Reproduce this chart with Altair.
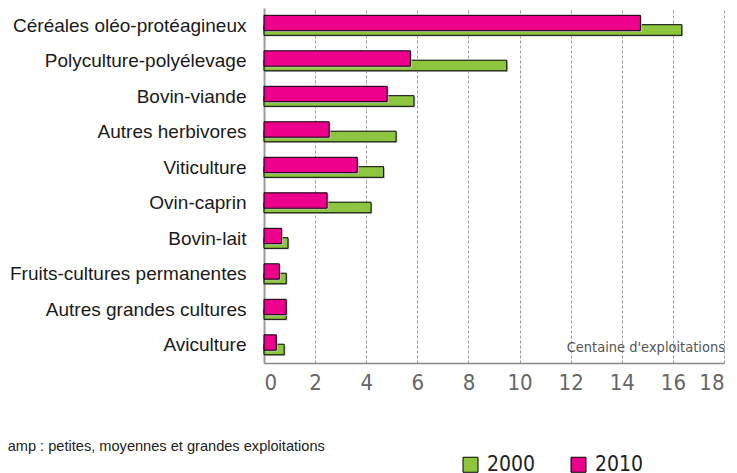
import altair as alt
import pandas as pd

categories = [
    "Céréales oléo-protéagineux",
    "Polyculture-polyélevage",
    "Bovin-viande",
    "Autres herbivores",
    "Viticulture",
    "Ovin-caprin",
    "Bovin-lait",
    "Fruits-cultures permanentes",
    "Autres grandes cultures",
    "Aviculture",
]
values_2000 = [16.35, 9.5, 5.87, 5.17, 4.68, 4.19, 0.94, 0.87, 0.87, 0.79]
values_2010 = [14.73, 5.73, 4.82, 2.55, 3.65, 2.47, 0.69, 0.60, 0.87, 0.48]
years = ["2000", "2010"]
tick_values = [0, 2, 4, 6, 8, 10, 12, 14, 16, 18]
unit_note = "Centaine d'exploitations"
source_note = "Champ : petites, moyennes et grandes exploitations"

GREEN = "#8cc63f"
PINK = "#ec008c"
NARROW = "DejaVu Sans Condensed, sans-serif"
ARIAL = "Liberation Sans, Arial, sans-serif"

rows = []
for c, a, b in zip(categories, values_2000, values_2010):
    rows.append({"cat": c, "year": "2000", "val": a})
    rows.append({"cat": c, "year": "2010", "val": b})
df = pd.DataFrame(rows)

y_enc = alt.Y(
    "cat:N",
    sort=categories,
    scale=alt.Scale(paddingInner=0, paddingOuter=0),
    axis=alt.Axis(
        title=None, ticks=False, grid=False,
        domainColor="#9a9a9a", domainWidth=2,
        labelFontSize=19, labelFont=ARIAL, labelColor="#1a1a1a",
        labelPadding=18, labelLimit=400,
    ),
)
x_enc = alt.X(
    "val:Q",
    scale=alt.Scale(domain=[0, 18], nice=False, zero=True),
    axis=alt.Axis(
        title=None, values=tick_values, grid=True, gridDash=[3, 2],
        gridColor="#9a9a9a", gridWidth=1, ticks=False,
        domainColor="#888888", domainWidth=1.5,
        labelFontSize=22, labelFont=NARROW, labelColor="#666666",
        labelPadding=9, labelFontWeight="normal",
    ),
)
color_enc = alt.Color(
    "year:N",
    scale=alt.Scale(domain=years, range=[GREEN, PINK]),
    legend=alt.Legend(
        title=None, orient="none", legendX=196, legendY=446,
        direction="horizontal", symbolType="square", symbolSize=225,
        symbolStrokeColor="black", symbolStrokeWidth=1, symbolOpacity=1,
        labelFontSize=21, labelFont=NARROW, labelColor="#222222",
        columnPadding=32, labelOffset=6, padding=0,
    ),
)

base = alt.Chart(df)

green_shadow = base.transform_filter(alt.datum.year == "2000").mark_bar(
    size=10.6, yOffset=5.5, xOffset=1.3, color="#c8c8c8"
).encode(x=x_enc, y=y_enc)
green = base.transform_filter(alt.datum.year == "2000").mark_bar(
    size=10.6, yOffset=4.25, stroke="black", strokeWidth=1
).encode(x=x_enc, y=y_enc, color=color_enc)
pink_shadow = base.transform_filter(alt.datum.year == "2010").mark_bar(
    size=15.4, yOffset=-1.5, xOffset=1.3, color="#c8c8c8"
).encode(x=x_enc, y=y_enc)
pink = base.transform_filter(alt.datum.year == "2010").mark_bar(
    size=15.4, yOffset=-2.75, stroke="black", strokeWidth=1
).encode(x=x_enc, y=y_enc, color=color_enc)

note = alt.Chart(pd.DataFrame({"t": [unit_note]})).mark_text(
    align="right", baseline="alphabetic", fontSize=14.5, font=NARROW, color="#555555"
).encode(text="t:N", x=alt.value(461), y=alt.value(344))

source = alt.Chart(pd.DataFrame({"t": [source_note]})).mark_text(
    align="left", baseline="alphabetic", fontSize=14.6, font=ARIAL, color="#222222"
).encode(text="t:N", x=alt.value(-275), y=alt.value(443))

chart = alt.layer(green_shadow, green, pink_shadow, pink, note, source).properties(
    width=460, height=355,
    autosize=alt.AutoSizeParams(type="none"),
    padding={"left": 256, "top": 0, "right": 5, "bottom": 110},
).configure_view(stroke=None)

chart.save("out.html", embed_options={"renderer": "svg", "actions": False})
